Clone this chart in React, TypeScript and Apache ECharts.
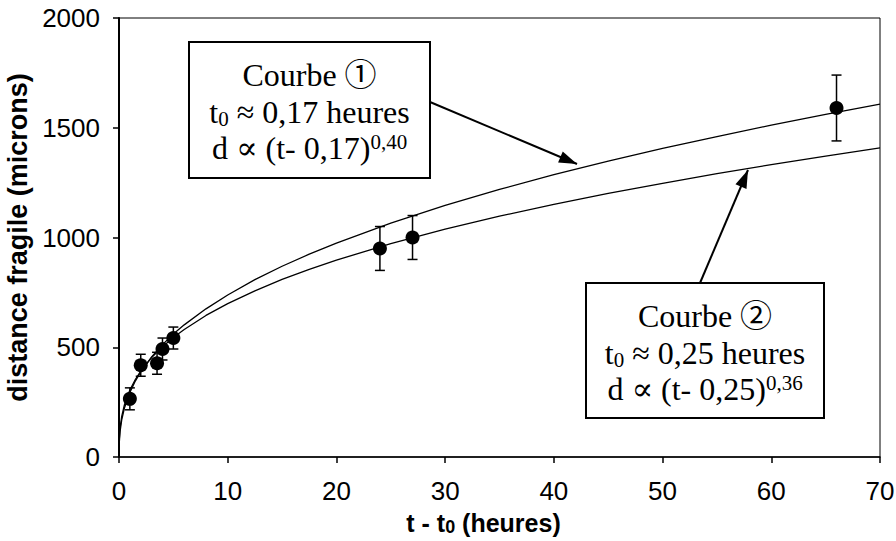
import React, { useEffect, useRef } from "react";
import * as echarts from "echarts";

// Measured points (t - t0 in hours, brittle distance in microns, error bar half-height)
const pointT = [1, 2, 3.5, 4, 5, 24, 27, 66];
const pointD = [265, 418, 427, 492, 542, 950, 1000, 1590];
const pointErr = [50, 50, 50, 50, 50, 100, 100, 150];

// Fitted curves
const curveT = [0, 0.02, 0.1, 0.25, 0.5, 1, 1.5, 2, 3, 4, 5, 6, 8, 10, 12.5, 15, 17.5, 20, 25, 30, 35, 40, 45, 50, 55, 60, 65, 70];
const curve1D = [0, 61, 117, 169, 223, 294, 346, 388, 456, 512, 560, 602, 675, 738, 808, 869, 924, 974, 1065, 1146, 1219, 1286, 1348, 1406, 1460, 1512, 1561, 1608];
const curve2D = [0, 75, 133, 185, 238, 305, 353, 391, 453, 502, 544, 581, 645, 699, 757, 809, 855, 897, 972, 1038, 1097, 1151, 1201, 1247, 1291, 1332, 1371, 1408];

const xTicks = [0, 10, 20, 30, 40, 50, 60, 70];
const yTicks = [0, 500, 1000, 1500, 2000];

const SANS = "'Liberation Sans', Arial, Helvetica, sans-serif";
const SERIF = "'Liberation Serif', 'Times New Roman', 'DejaVu Serif', 'Noto Sans CJK JP', serif";

function arrowHead(tip: number[], from: number[], len = 18, half = 6) {
  const dx = tip[0] - from[0];
  const dy = tip[1] - from[1];
  const l = Math.sqrt(dx * dx + dy * dy);
  const ux = dx / l, uy = dy / l;
  const bx = tip[0] - ux * len, by = tip[1] - uy * len;
  const nx = -uy, ny = ux;
  return [
    [tip[0], tip[1]],
    [bx + nx * half, by + ny * half],
    [bx - nx * half, by - ny * half],
  ];
}

function textRich(size: number) {
  return {
    n: { fontSize: size, fontFamily: SERIF, fill: "#000" },
    sub: { fontSize: Math.round(size * 0.65), fontFamily: SERIF, fill: "#000", verticalAlign: "bottom", padding: [14, 0, 0, 0] },
    sup: { fontSize: Math.round(size * 0.65), fontFamily: SERIF, fill: "#000", verticalAlign: "top", padding: [0, 0, 12, 0] },
  };
}

function box(x: number, y: number, w: number, h: number, lines: string[]) {
  const cx = x + w / 2;
  const size = 32;
  const children: any[] = [
    { type: "rect", shape: { x, y, width: w, height: h }, style: { fill: "#fff", stroke: "#000", lineWidth: 2 }, z: 10 },
  ];
  const offsets = [33, 70, 106];
  lines.forEach((t, i) => {
    children.push({
      type: "text",
      x: cx,
      y: y + offsets[i],
      z: 11,
      style: { text: t, rich: textRich(size), align: "center", verticalAlign: "middle", fontSize: size, fontFamily: SERIF, fill: "#000" },
    });
  });
  return children;
}

export default function App() {
  const ref = useRef<HTMLDivElement>(null);
  useEffect(() => {
    if (!ref.current) return;
    const chart = echarts.init(ref.current, null, { renderer: "svg" });

    const a1From = [430, 102], a1Tip = [577, 164];
    const a2From = [700, 283], a2Tip = [748, 170];

    const graphic: any[] = [
      ...box(189, 42, 241, 136, ["{n|Courbe ①}", "{n|t}{sub|0}{n| ≈ 0,17 heures}", "{n|d ∝ (t- 0,17)}{sup|0,40}"]),
      ...box(586, 283, 238, 135, ["{n|Courbe ②}", "{n|t}{sub|0}{n| ≈ 0,25 heures}", "{n|d ∝ (t- 0,25)}{sup|0,36}"]),
      { type: "line", shape: { x1: a1From[0], y1: a1From[1], x2: a1Tip[0], y2: a1Tip[1] }, style: { stroke: "#000", lineWidth: 2 }, z: 12 },
      { type: "polygon", shape: { points: arrowHead(a1Tip, a1From) }, style: { fill: "#000" }, z: 12 },
      { type: "line", shape: { x1: a2From[0], y1: a2From[1], x2: a2Tip[0], y2: a2Tip[1] }, style: { stroke: "#000", lineWidth: 2 }, z: 12 },
      { type: "polygon", shape: { points: arrowHead(a2Tip, a2From) }, style: { fill: "#000" }, z: 12 },
    ];

    const option: any = {
      animation: false,
      backgroundColor: "#fff",
      grid: {
        left: 119, right: 16, top: 18, bottom: 84,
        containLabel: false, outerBoundsMode: "none",
        show: true, borderColor: "#000", borderWidth: 1, backgroundColor: "transparent",
      },
      xAxis: {
        type: "value",
        min: xTicks[0],
        max: xTicks[xTicks.length - 1],
        interval: 10,
        name: "{b|t - t}{s|0}{b| (heures)}",
        nameLocation: "middle",
        nameGap: 53,
        nameTextStyle: {
          fontSize: 25,
          fontWeight: "bold",
          fontFamily: SANS,
          color: "#000",
          padding: [0, 32, 0, 0],
          rich: {
            b: { fontSize: 25, fontWeight: "bold", fontFamily: SANS, color: "#000" },
            s: { fontSize: 18, fontWeight: "bold", fontFamily: SANS, color: "#000", verticalAlign: "bottom", padding: [8, 0, 0, 0] },
          },
        },
        axisLine: { show: true, onZero: false, lineStyle: { color: "#000", width: 1.5 } },
        axisTick: { show: true, inside: false, length: 6, lineStyle: { color: "#000", width: 1.5 } },
        axisLabel: { fontSize: 26, fontFamily: SANS, color: "#000", margin: 21, formatter: (v: number) => String(v) },
        splitLine: { show: false },
      },
      yAxis: {
        type: "value",
        min: yTicks[0],
        max: yTicks[yTicks.length - 1],
        interval: 500,
        name: "distance fragile (microns)",
        nameLocation: "middle",
        nameGap: 83,
        nameTextStyle: { fontSize: 27, fontWeight: "bold", fontFamily: SANS, color: "#000" },
        axisLine: { show: true, onZero: false, lineStyle: { color: "#000", width: 2 } },
        axisTick: { show: true, inside: false, length: 6, lineStyle: { color: "#000", width: 1.5 } },
        axisLabel: { fontSize: 26, fontFamily: SANS, color: "#000", margin: 19, formatter: (v: number) => String(v) },
        splitLine: { show: false },
      },
      series: [
        {
          type: "line",
          name: "Courbe 1",
          data: curveT.map((t, i) => [t, curve1D[i]]),
          smooth: false,
          symbol: "none",
          lineStyle: { color: "#000", width: 1.3 },
          z: 2,
        },
        {
          type: "line",
          name: "Courbe 2",
          data: curveT.map((t, i) => [t, curve2D[i]]),
          smooth: false,
          symbol: "none",
          lineStyle: { color: "#000", width: 1.3 },
          z: 2,
        },
        {
          type: "custom",
          name: "erreur",
          data: pointT.map((t, i) => [t, pointD[i], pointErr[i]]),
          encode: { x: 0, y: 1 },
          renderItem: (params: any, api: any) => {
            const x = api.value(0), y = api.value(1), e = api.value(2);
            const top = api.coord([x, y + e]);
            const bot = api.coord([x, y - e]);
            const h = 5;
            const st = { stroke: "#000", lineWidth: 1.5 };
            return {
              type: "group",
              children: [
                { type: "line", shape: { x1: top[0], y1: top[1], x2: bot[0], y2: bot[1] }, style: st },
                { type: "line", shape: { x1: top[0] - h, y1: top[1], x2: top[0] + h, y2: top[1] }, style: st },
                { type: "line", shape: { x1: bot[0] - h, y1: bot[1], x2: bot[0] + h, y2: bot[1] }, style: st },
              ],
            };
          },
          z: 3,
        },
        {
          type: "scatter",
          name: "mesures",
          data: pointT.map((t, i) => [t, pointD[i]]),
          symbol: "circle",
          symbolSize: 14,
          itemStyle: { color: "#000", opacity: 1 },
          z: 4,
        },
      ],
      graphic,
    };
    chart.setOption(option);
    return () => chart.dispose();
  }, []);
  return <div ref={ref} style={{ position: "fixed", left: 0, top: 0, width: 896, height: 541, background: "#fff" }} />;
}
